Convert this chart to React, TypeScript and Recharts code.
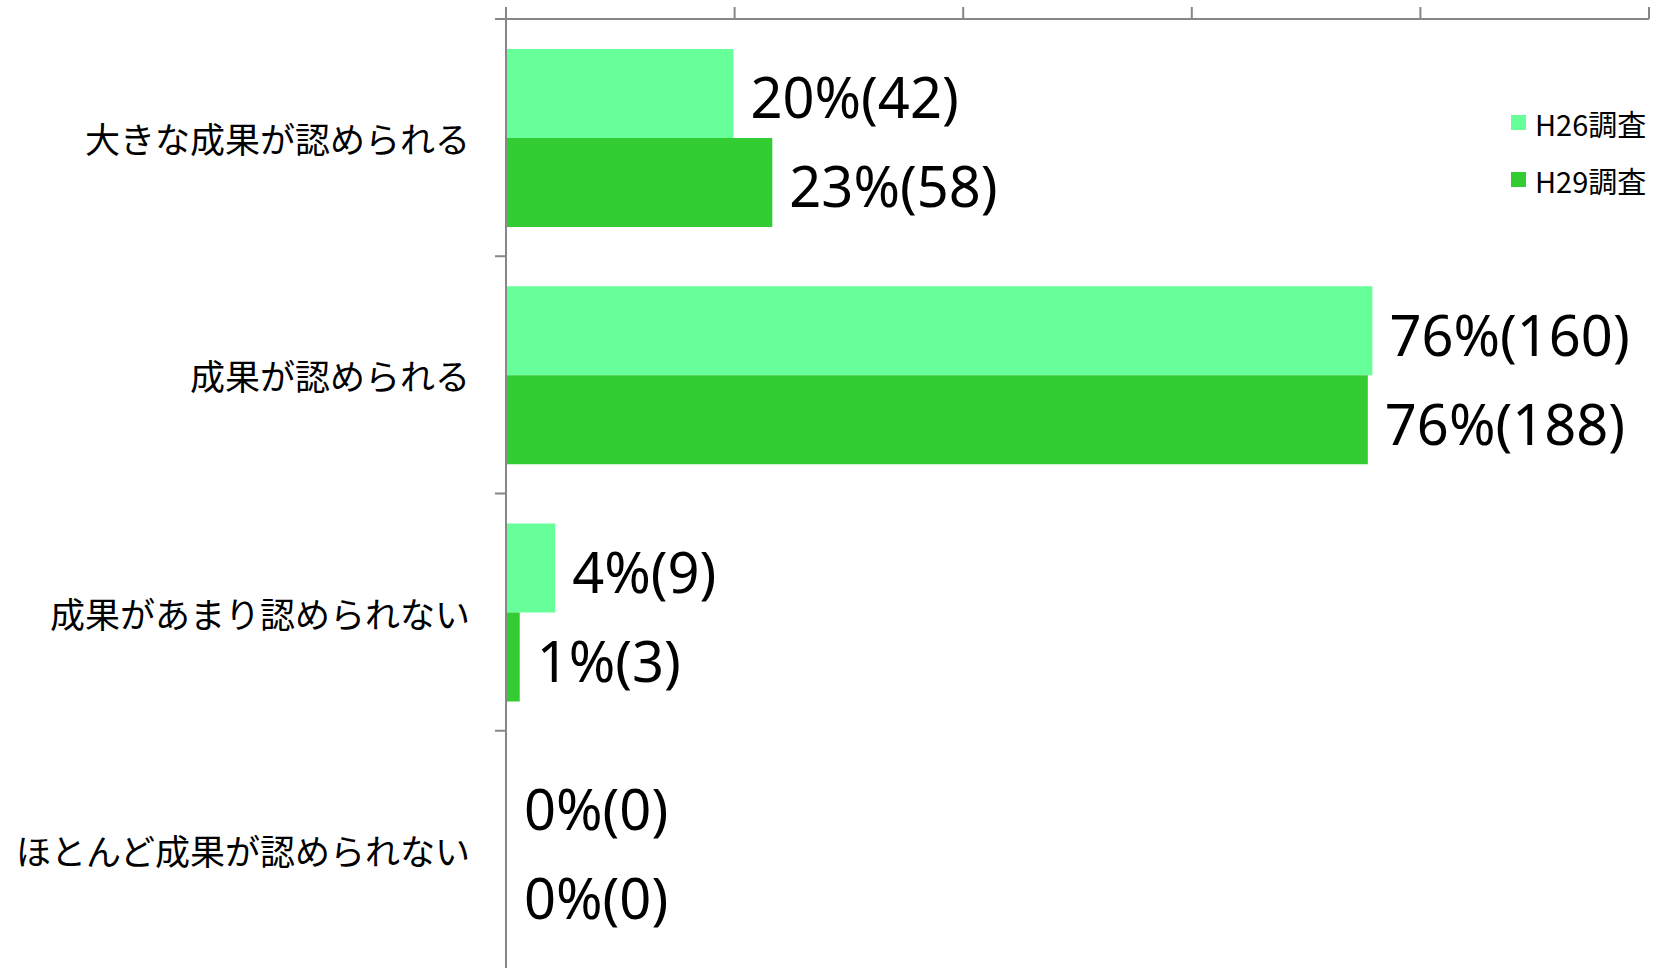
import { BarChart, Bar, XAxis, YAxis, Legend, LabelList } from 'recharts';

const categories = [
  '大きな成果が認められる',
  '成果が認められる',
  '成果があまり認められない',
  'ほとんど成果が認められない',
];
// bar lengths (%)
const h26Values = [19.9, 75.8, 4.3, 0];
const h29Values = [23.3, 75.4, 1.2, 0];
// labels as printed
const h26Pct = [20, 76, 4, 0];
const h26Count = [42, 160, 9, 0];
const h29Pct = [23, 76, 1, 0];
const h29Count = [58, 188, 3, 0];
const xTicks = [0, 20, 40, 60, 80, 100];

const series = [
  { key: 'h26', name: 'H26調査', color: '#66FF99' },
  { key: 'h29', name: 'H29調査', color: '#33CC33' },
];

const data = categories.map((name, i) => ({
  name,
  h26: h26Values[i],
  h29: h29Values[i],
  h26Label: `${h26Pct[i]}%(${h26Count[i]})`,
  h29Label: `${h29Pct[i]}%(${h29Count[i]})`,
}));

const W = 1662;
const H = 968;
const TOP = 19;
const BAND = (H - TOP) / categories.length;
const AXIS_COLOR = '#878787';

const CategoryTick = (props: any) => {
  const { x, y, payload } = props;
  return (
    <g>
      <line x1={x + 25} x2={x + 36} y1={y - BAND / 2} y2={y - BAND / 2} stroke={AXIS_COLOR} strokeWidth={2} />
      <text
        x={x}
        y={y}
        textAnchor="end"
        dominantBaseline="central"
        fontSize={35}
        fill="#000"
        fontFamily="'Noto Sans CJK JP', sans-serif"
      >
        {payload.value}
      </text>
    </g>
  );
};

const LegendBox = () => (
  <div style={{ fontFamily: "'Noto Sans CJK JP', sans-serif", fontSize: 29, color: '#000' }}>
    {series.map((s) => (
      <div key={s.key} style={{ display: 'flex', alignItems: 'center', height: 57 }}>
        <div style={{ width: 15, height: 15, background: s.color, marginRight: 9 }} />
        <span>{s.name}</span>
      </div>
    ))}
  </div>
);

export default function App() {
  return (
    <div style={{ position: 'absolute', left: 0, top: 0, width: W, height: H, background: '#fff' }}>
      <BarChart
        width={W}
        height={H}
        data={data}
        layout="vertical"
        margin={{ top: 0, right: 13, bottom: 0, left: 0 }}
        barGap={0}
      >
        <XAxis
          type="number"
          orientation="top"
          domain={[0, 100]}
          ticks={xTicks}
          height={TOP}
          tickSize={12}
          tick={() => <g />}
          axisLine={{ stroke: AXIS_COLOR, strokeWidth: 2 }}
          tickLine={{ stroke: AXIS_COLOR, strokeWidth: 2 }}
        />
        <YAxis
          type="category"
          dataKey="name"
          width={506}
          tickSize={10}
          tickMargin={26}
          tickLine={false}
          tick={<CategoryTick />}
          axisLine={{ stroke: AXIS_COLOR, strokeWidth: 2 }}
        />
        <Legend
          layout="vertical"
          verticalAlign="middle"
          align="center"
          content={<LegendBox />}
          wrapperStyle={{ position: 'absolute', left: 1511, top: 94, width: 151 }}
        />
        {series.map((s) => (
          <Bar
            key={s.key}
            dataKey={s.key}
            name={s.name}
            fill={s.color}
            barSize={89}
            minPointSize={1}
            isAnimationActive={false}
          >
            <LabelList
              dataKey={`${s.key}Label`}
              position="right"
              offset={17}
              dy={5}
              fill="#000"
              fontSize={56}
              fontFamily="'Noto Sans', sans-serif"
            />
          </Bar>
        ))}
      </BarChart>
    </div>
  );
}
